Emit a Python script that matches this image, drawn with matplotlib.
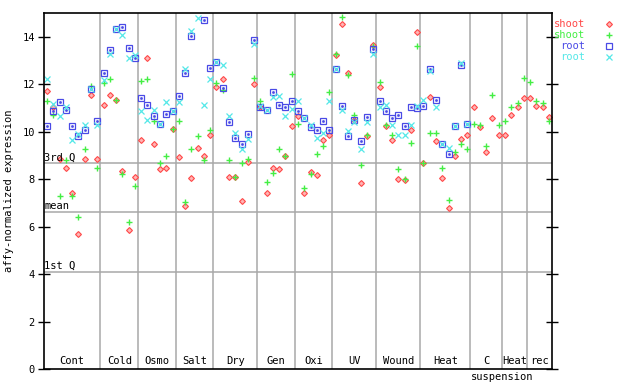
import numpy as np
import matplotlib
matplotlib.use("Agg")
import matplotlib.pyplot as plt

plt.rcParams['font.family'] = ['DejaVu Sans Mono']

# group names and first sample index of each group
groups = ['Cont', 'Cold', 'Osmo', 'Salt', 'Dry', 'Gen', 'Oxi', 'UV', 'Wound', 'Heat', 'C', 'Heat', 'rec']
group_start = [0, 9, 15, 21, 27, 34, 40, 46, 53, 60, 68, 73, 77]
n_samples = 81

# shoot replicates (all samples)
shoot_red = [11.73, 11.02, 8.84, 8.45, 7.41, 5.67, 8.85, 11.54, 8.84,
             11.14, 11.56, 11.35, 8.34, 5.85, 8.11,
             9.63, 13.12, 9.46, 8.41, 8.45, 10.13,
             8.93, 6.85, 8.03, 9.33, 8.97, 9.84,
             11.90, 12.24, 8.11, 8.07, 7.06, 8.74, 11.99,
             11.02, 7.40, 8.45, 8.41, 8.97, 10.22,
             10.68, 7.40, 8.31, 8.16, 9.63, 9.84,
             13.21, 14.55, 12.49, 10.51, 7.82, 9.80, 13.67,
             11.90, 10.22, 9.63, 7.99, 7.95, 10.05, 14.18,
             8.66, 11.44, 9.59, 8.03, 6.77, 8.96, 9.71, 9.84,
             11.06, 10.18, 9.13, 10.56, 9.88,
             9.84, 10.72, 11.02, 11.40,
             11.40, 11.10, 11.02, 10.60]
shoot_green = [11.31, 10.72, 7.27, 8.79, 7.27, 6.39, 9.25, 11.94, 8.49,
               12.07, 12.24, 11.35, 8.21, 6.20, 7.69,
               12.15, 12.24, 10.47, 8.70, 8.97, 10.13,
               10.43, 7.02, 9.25, 9.80, 8.79, 10.05,
               12.07, 11.75, 8.79, 8.11, 8.66, 8.85, 12.28,
               11.30, 7.86, 8.24, 9.25, 8.97, 12.41,
               10.34, 7.61, 8.22, 9.04, 9.38, 11.69,
               13.29, 14.85, 12.37, 10.72, 8.58, 9.84, 13.60,
               12.11, 10.26, 9.84, 8.41, 7.99, 9.54, 13.59,
               8.70, 9.96, 9.96, 8.45, 7.10, 9.13, 9.50, 9.25,
               10.34, 10.26, 9.38, 11.56, 10.30,
               10.43, 11.02, 11.19, 12.28,
               12.11, 11.31, 11.19, 10.47]

# root replicates (first 68 samples only)
root_blue = [10.22, 10.85, 11.23, 10.93, 10.22, 9.80, 10.06, 11.78, 10.44,
             12.49, 13.43, 14.34, 14.43, 13.54, 13.12,
             11.40, 11.14, 10.68, 10.32, 10.76, 10.85,
             11.52, 12.49, 14.01, np.nan, 14.72, 12.70,
             12.94, 11.82, 10.39, 9.75, 9.46, 9.92, 13.88,
             11.02, 10.93, 11.69, 11.14, 11.02, 11.28,
             10.85, 10.56, 10.18, 10.09, 10.43, 10.05,
             12.66, 11.10, 9.80, 10.51, 9.59, 10.60, 13.50,
             11.28, 10.85, 10.56, 10.72, 10.22, 11.02, 10.98,
             11.10, 12.66, 11.35, 9.46, 9.04, 10.22, 12.82, 10.32]
root_cyan = [12.24, 11.17, 10.64, 11.02, 9.63, 9.89, 10.27, 11.78, 10.27,
             12.17, 13.29, 14.34, 14.06, 13.12, 13.22,
             10.89, 10.51, 10.90, 10.32, 11.23, 10.85,
             11.23, 12.63, 14.26, 14.77, 11.14, 12.24,
             12.94, 12.79, 10.68, 9.96, 9.25, 9.71, 13.71,
             11.10, 10.93, 11.44, 11.52, 10.64, 10.96,
             11.31, 10.56, 10.26, 9.75, 9.96, 11.28,
             12.66, 10.93, 10.01, 10.41, 9.25, 10.41, 13.29,
             11.02, 11.14, 10.30, 9.88, 9.84, 10.30, 11.10,
             11.35, 12.57, 11.02, 9.46, 9.33, 10.22, 12.89, 10.32]

# reference lines
q3, mean_val, q1 = 8.66, 6.60, 4.07

RED = '#ff4848'
GREEN = '#44ee44'
BLUE = '#4a4ae6'
CYAN = '#55e8e8'
GRID = '#a8a8a8'

STYLE = {
    'red': dict(marker='D', ms=3.0, mfc='#ffb4b4', mew=0.8),
    'green': dict(marker='+', ms=5.0, mew=1.0),
    'blue': dict(marker='s', ms=4.0, mfc='none', mew=0.9),
    'cyan': dict(marker='x', ms=3.8, mew=0.9),
}


def main():
    fig = plt.figure(figsize=(6.4, 3.84), dpi=100)
    ax = fig.add_axes([44 / 640, 15 / 384, 508 / 640, 356 / 384])

    xs = np.arange(n_samples)
    xr = np.arange(len(root_blue))

    ax.plot(xs, shoot_red, ls='none', mec=RED, **STYLE['red'])
    ax.plot(xs, shoot_green, ls='none', mec=GREEN, **STYLE['green'])
    ax.plot(xr, root_blue, ls='none', mec=BLUE, **STYLE['blue'])
    ax.plot(xr, root_blue, ls='none', marker='s', ms=0.9, mec=BLUE, mfc=BLUE)
    ax.plot(xr, root_cyan, ls='none', mec=CYAN, **STYLE['cyan'])

    # group dividers and labels
    for b in group_start[1:]:
        ax.axvline(b - 0.5, color=GRID, lw=1.1, zorder=0)
    ends = group_start[1:] + [n_samples]
    for name, s, e in zip(groups, group_start, ends):
        ax.text((s + e - 1) / 2, 0.12, name, ha='center', va='bottom', fontsize=7.5)
    ax.text(72.6, -0.35, 'suspension', ha='center', va='center', fontsize=7.5, clip_on=False)

    # quartile / mean lines
    for val, lab in [(q3, '3rd Q'), (mean_val, 'mean'), (q1, '1st Q')]:
        ax.axhline(val, color=GRID, lw=1.1, zorder=0)
        ax.text(-0.45, val + 0.05, lab, ha='left', va='bottom', fontsize=7.5)

    ax.set_xlim(-0.5, n_samples - 0.5)
    ax.set_ylim(0, 15)
    ax.set_xticks([])
    ax.set_yticks(np.arange(0, 15, 2))
    ax.tick_params(axis='y', direction='inout', length=9, width=1, labelsize=7.5, pad=2)
    ax.tick_params(axis='y', which='both', right=True, labelright=False)
    ax.set_ylabel('affy-normalized expression', fontsize=7.5, labelpad=6)
    for sp in ax.spines.values():
        sp.set_linewidth(1.2)

    # legend outside on the right
    leg = [('shoot', RED, 'red'), ('shoot', GREEN, 'green'),
           ('root', BLUE, 'blue'), ('root', CYAN, 'cyan')]
    for k, (lab, col, key) in enumerate(leg):
        yy = 1 - (24 + k * 11) / 384
        fig.text(585 / 640, yy, lab, color=col, ha='right', va='center', fontsize=7.5)
        ax.plot([609 / 640], [yy], transform=fig.transFigure, clip_on=False,
                ls='none', mec=col, **STYLE[key])

    fig.savefig('out.png', dpi=100)
    plt.close(fig)


if __name__ == "__main__":
    main()
